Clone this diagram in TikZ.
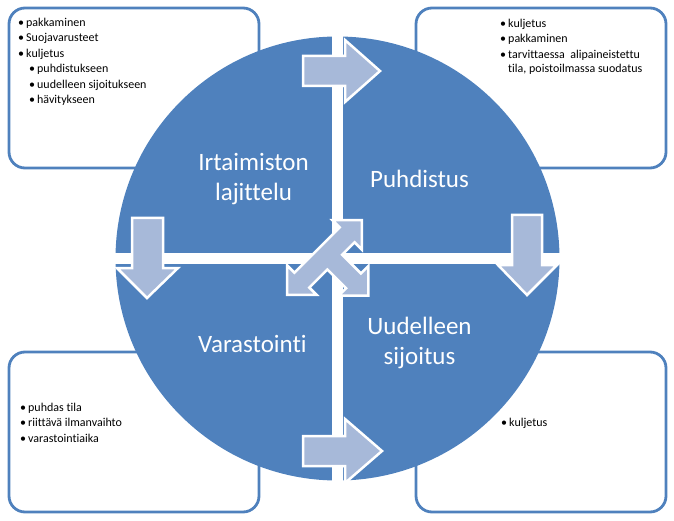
\documentclass[tikz,border=0pt]{standalone}
\usepackage{fontspec}
\setmainfont{Carlito}[Ligatures={NoCommon}]
\usetikzlibrary{positioning}
\definecolor{wheelblue}{RGB}{79,129,189}
\definecolor{arrowblue}{RGB}{167,185,217}
\newcommand{\itm}{\makebox[8pt][l]{\textbullet}}

\begin{document}
\begin{tikzpicture}[x=1pt, y=-1pt,
    infobox/.style={draw=wheelblue, line width=2.8pt, rounded corners=16pt, minimum width=250pt, minimum height=160pt, outer sep=0pt},
    listtext/.style={align=left, inner sep=0pt, font=\fontsize{12}{13.8}\selectfont},
    phase/.style={text=white, align=center, font=\fontsize{25}{30}\selectfont},
    blockarrow/.style={fill=arrowblue, draw=white, line width=2.5pt}]
\useasboundingbox (0,0) rectangle (674,521);

\node[infobox] (boxNW) at (134,88) {};
\node[infobox] (boxNE) at (541,88) {};
\node[infobox] (boxSW) at (134,432) {};
\node[infobox] (boxSE) at (541,432) {};

\node[circle, fill=wheelblue, inner sep=0pt, minimum size=444pt] (wheel) at (337.5,258.5) {};
\draw[white, line width=11pt] ([yshift=2pt] wheel.north) -- ([yshift=-2pt] wheel.south);
\draw[white, line width=11pt] ([xshift=-2pt] wheel.west) -- ([xshift=2pt] wheel.east);

% arrows between the phases
\draw[blockarrow] (303,56) -- (345,56) -- (345,40) -- (380,71) -- (345,102) -- (345,86) -- (303,86) -- cycle;
\draw[blockarrow] (303,436) -- (345,436) -- (345,419) -- (382,451) -- (345,483) -- (345,466) -- (303,466) -- cycle;
\draw[blockarrow] (132,218) -- (163,218) -- (163,268) -- (178,268) -- (147,298) -- (117,268) -- (132,268) -- cycle;
\draw[blockarrow] (512,215) -- (542,215) -- (542,265) -- (557,265) -- (527,295) -- (498,265) -- (512,265) -- cycle;
\begin{scope}[shift={(324.5,257.5)}, rotate=45]
\draw[blockarrow] (53,0) -- (32,-21) -- (32,-10.5) -- (-32,-10.5) -- (-32,-21) -- (-53,0) -- (-32,21) -- (-32,10.5)
    -- (-6.5,10.5) -- (-6.5,37) -- (-17,37) -- (4,58) -- (25,37) -- (14.5,37) -- (14.5,10.5) -- (32,10.5) -- (32,21) -- cycle;
\end{scope}

\node[phase] (sorting) at ([shift={(-84,-79)}] wheel.center) {Irtaimiston\\lajittelu};
\node[phase] (cleaning) at ([shift={(82,-80)}] wheel.center) {Puhdistus};
\node[phase] (storage) at ([shift={(-85,85)}] wheel.center) {Varastointi};
\node[phase] (reuse) at ([shift={(82,84)}] wheel.center) {Uudelleen\\sijoitus};

\node[listtext, below right=10pt and 9pt of boxNW.north west] (listNW) {\itm pakkaminen\\[1.6pt]
    \itm Suojavarusteet\\[1.6pt]
    \itm kuljetus\\[1.6pt]
    \hspace*{11pt}\itm puhdistukseen\\[1.6pt]
    \hspace*{11pt}\itm uudelleen sijoitukseen\\[1.6pt]
    \hspace*{11pt}\itm hävitykseen};
\node[listtext, below right=11pt and 84pt of boxNE.north west] (listNE) {\itm kuljetus\\[1.6pt]
    \itm pakkaminen\\[1.6pt]
    \itm tarvittaessa\ \ alipaineistettu\\
    \hspace*{8pt}tila, poistoilmassa suodatus};
\node[listtext, below right=51pt and 11pt of boxSW.north west] (listSW) {\itm puhdas tila\\[1.6pt]
    \itm riittävä ilmanvaihto\\[1.6pt]
    \itm varastointiaika};
\node[listtext, below right=66pt and 85pt of boxSE.north west] (listSE) {\itm kuljetus};
\end{tikzpicture}
\end{document}
